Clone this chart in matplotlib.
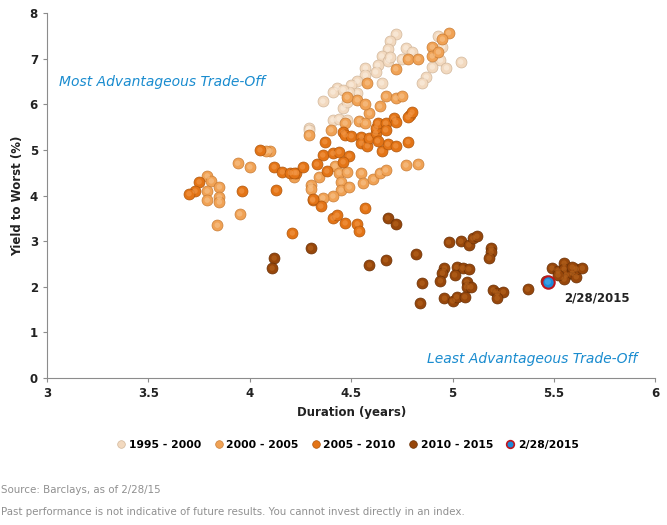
from matplotlib import pyplot as plt
from matplotlib.lines import Line2D

# 1995 - 2000
x1 = [4.72, 4.69, 4.68, 4.77, 4.80, 4.65, 4.68, 4.69, 4.75, 4.63, 4.62, 4.57, 4.57,
      4.65, 4.53, 4.50, 4.53, 4.49, 4.43, 4.41, 4.46, 4.36, 4.46, 4.48, 4.41, 4.44,
      4.48, 4.29, 4.94, 4.90, 4.97, 5.04, 4.87, 4.85, 4.93, 4.95, 4.29]
y1 = [7.54, 7.39, 7.21, 7.24, 7.15, 7.06, 6.95, 7.04, 7.00, 6.86, 6.71, 6.80, 6.64,
      6.47, 6.51, 6.43, 6.25, 6.27, 6.36, 6.27, 6.32, 6.07, 5.92, 6.05, 5.66, 5.68,
      5.66, 5.48, 6.97, 6.82, 6.80, 6.93, 6.60, 6.47, 7.50, 7.26, 5.44]

# 2000 - 2005
x2 = [3.79, 3.81, 3.85, 3.79, 3.85, 3.79, 3.85, 3.94, 4.00, 3.95, 3.84, 4.10, 4.08,
      4.29, 4.34, 4.42, 4.44, 4.48, 4.55, 4.56, 4.61, 4.64, 4.67, 4.77, 4.83, 4.45,
      4.45, 4.49, 4.41, 4.36, 4.22, 4.40, 4.47, 4.54, 4.57, 4.59, 4.98, 4.95, 4.90,
      4.90, 4.93, 4.78, 4.83, 4.72, 4.58, 4.53, 4.48, 4.57, 4.64, 4.67, 4.72, 4.75,
      4.30, 4.30]
y2 = [4.43, 4.32, 4.19, 4.10, 3.97, 3.90, 3.86, 4.71, 4.63, 3.60, 3.35, 4.98, 4.97,
      5.33, 4.41, 4.65, 4.50, 4.52, 4.50, 4.28, 4.36, 4.50, 4.56, 4.67, 4.69, 4.30,
      4.12, 4.19, 3.99, 3.95, 4.41, 5.44, 5.59, 5.64, 5.59, 5.81, 7.57, 7.43, 7.26,
      7.06, 7.15, 7.00, 7.00, 6.78, 6.47, 6.10, 6.16, 6.01, 5.96, 6.18, 6.14, 6.18,
      4.23, 4.14]

# 2005 - 2010
x3 = [3.75, 3.73, 3.70, 3.96, 4.05, 4.12, 4.16, 4.20, 4.23, 4.13, 4.21, 4.37, 4.36,
      4.41, 4.44, 4.49, 4.46, 4.26, 4.33, 4.38, 4.31, 4.35, 4.57, 4.46, 4.47, 4.50,
      4.55, 4.55, 4.58, 4.59, 4.62, 4.62, 4.63, 4.67, 4.67, 4.71, 4.72, 4.79, 4.78,
      4.78, 4.65, 4.68, 4.72, 4.63, 4.80, 4.31, 4.41, 4.43, 4.47, 4.53, 4.54, 4.22]
y3 = [4.30, 4.10, 4.04, 4.10, 5.00, 4.63, 4.52, 4.50, 4.50, 4.12, 3.18, 5.18, 4.89,
      4.93, 4.96, 4.87, 4.74, 4.63, 4.69, 4.54, 3.90, 3.77, 3.73, 5.39, 5.33, 5.31,
      5.29, 5.15, 5.09, 5.26, 5.37, 5.48, 5.59, 5.59, 5.44, 5.70, 5.61, 5.77, 5.72,
      5.18, 4.98, 5.13, 5.09, 5.20, 5.83, 3.92, 3.51, 3.57, 3.40, 3.38, 3.22, 4.50]

# 2010 - 2015
x4 = [4.68, 4.72, 4.30, 4.12, 4.11, 4.59, 4.67, 4.82, 4.98, 5.04, 5.08, 5.10, 5.12,
      5.19, 5.19, 5.18, 4.96, 4.95, 4.94, 5.02, 5.05, 5.08, 5.01, 5.07, 5.07, 5.09,
      4.85, 4.84, 4.96, 5.00, 5.02, 5.06, 5.20, 5.22, 5.25, 5.22, 5.37, 5.46, 5.49,
      5.52, 5.55, 5.55, 5.56, 5.55, 5.59, 5.61, 5.61, 5.64, 5.59, 5.52]
y4 = [3.51, 3.38, 2.85, 2.63, 2.41, 2.48, 2.59, 2.72, 2.98, 3.00, 2.92, 3.07, 3.11,
      2.85, 2.76, 2.63, 2.41, 2.30, 2.13, 2.43, 2.41, 2.39, 2.26, 2.11, 2.00, 2.00,
      2.08, 1.64, 1.75, 1.69, 1.78, 1.78, 1.93, 1.86, 1.89, 1.75, 1.95, 2.13, 2.41,
      2.35, 2.52, 2.39, 2.26, 2.17, 2.30, 2.22, 2.39, 2.41, 2.43, 2.26]

# 2/28/2015
x5 = [5.47]
y5 = [2.11]

labels = ['1995 - 2000', '2000 - 2005', '2005 - 2010', '2010 - 2015', '2/28/2015']
colors = ['#f2d9bf', '#f0a255', '#e37416', '#97470b', '#1d8ad8']
edges = ['#d2b79b', '#c97d36', '#b0560c', '#6a3005', '#c0161e']
highlights = ['#fbefe2', '#f8c58f', '#f3994a', '#b9661f', '#4fb0f0']

plt.figure(figsize=(6.67, 5.25), dpi=100)
ax = plt.axes([0.0705, 0.28, 0.912, 0.695])

series = [(x1, y1), (x2, y2), (x3, y3), (x4, y4), (x5, y5)]
for i, (xs, ys) in enumerate(series):
    lw = 1.5 if i == 4 else 0.5
    s = 80 if i == 4 else 62
    ax.scatter(xs, ys, s=s, color=colors[i], edgecolors=edges[i], linewidths=lw,
               zorder=2 + i)
    ax.scatter(xs, ys, s=s * 0.25, color=highlights[i], edgecolors='none',
               alpha=0.6, zorder=2 + i)

ax.set_xlim(3, 6)
ax.set_ylim(0, 8)
ax.set_xticks([3, 3.5, 4, 4.5, 5, 5.5, 6])
ax.set_xticklabels(['3', '3.5', '4', '4.5', '5', '5.5', '6'])
ax.set_yticks(range(0, 9))
for side in ['top', 'right']:
    ax.spines[side].set_visible(False)
for side in ['left', 'bottom']:
    ax.spines[side].set_color('#8c8c8c')
ax.tick_params(colors='#8c8c8c', labelcolor='#222222', labelsize=8.5, length=3)
for t in ax.get_xticklabels() + ax.get_yticklabels():
    t.set_fontweight('bold')

ax.set_xlabel('Duration (years)', fontsize=8.5, fontweight='bold', color='#222222')
ax.set_ylabel('Yield to Worst (%)', fontsize=8.5, fontweight='bold', color='#222222')

ax.text(3.06, 6.5, 'Most Advantageous Trade-Off', color='#1a8ccf', fontsize=10,
        style='italic', va='center')
ax.text(5.91, 0.42, 'Least Advantageous Trade-Off', color='#1a8ccf', fontsize=10,
        style='italic', va='center', ha='right')
ax.text(5.55, 1.76, '2/28/2015', fontsize=8.5, fontweight='bold', color='#222222',
        va='center')

handles = []
for i in range(5):
    handles.append(Line2D([], [], marker='o', linestyle='', markersize=5.5,
                          markerfacecolor=colors[i], markeredgecolor=edges[i],
                          markeredgewidth=1.2 if i == 4 else 0.5))
plt.figlegend(handles, labels, loc='center', bbox_to_anchor=(0.52, 0.152), ncol=5,
              frameon=False, handletextpad=0.1, columnspacing=1.0,
              handlelength=1.2, prop={'weight': 'bold', 'size': 7.8})

plt.figtext(0.002, 0.067, 'Source: Barclays, as of 2/28/15', fontsize=7.4,
            color='#909090', va='center')
plt.figtext(0.002, 0.024, 'Past performance is not indicative of future results. '
            'You cannot invest directly in an index.', fontsize=7.4,
            color='#909090', va='center')

plt.savefig('out.png', dpi=100)
